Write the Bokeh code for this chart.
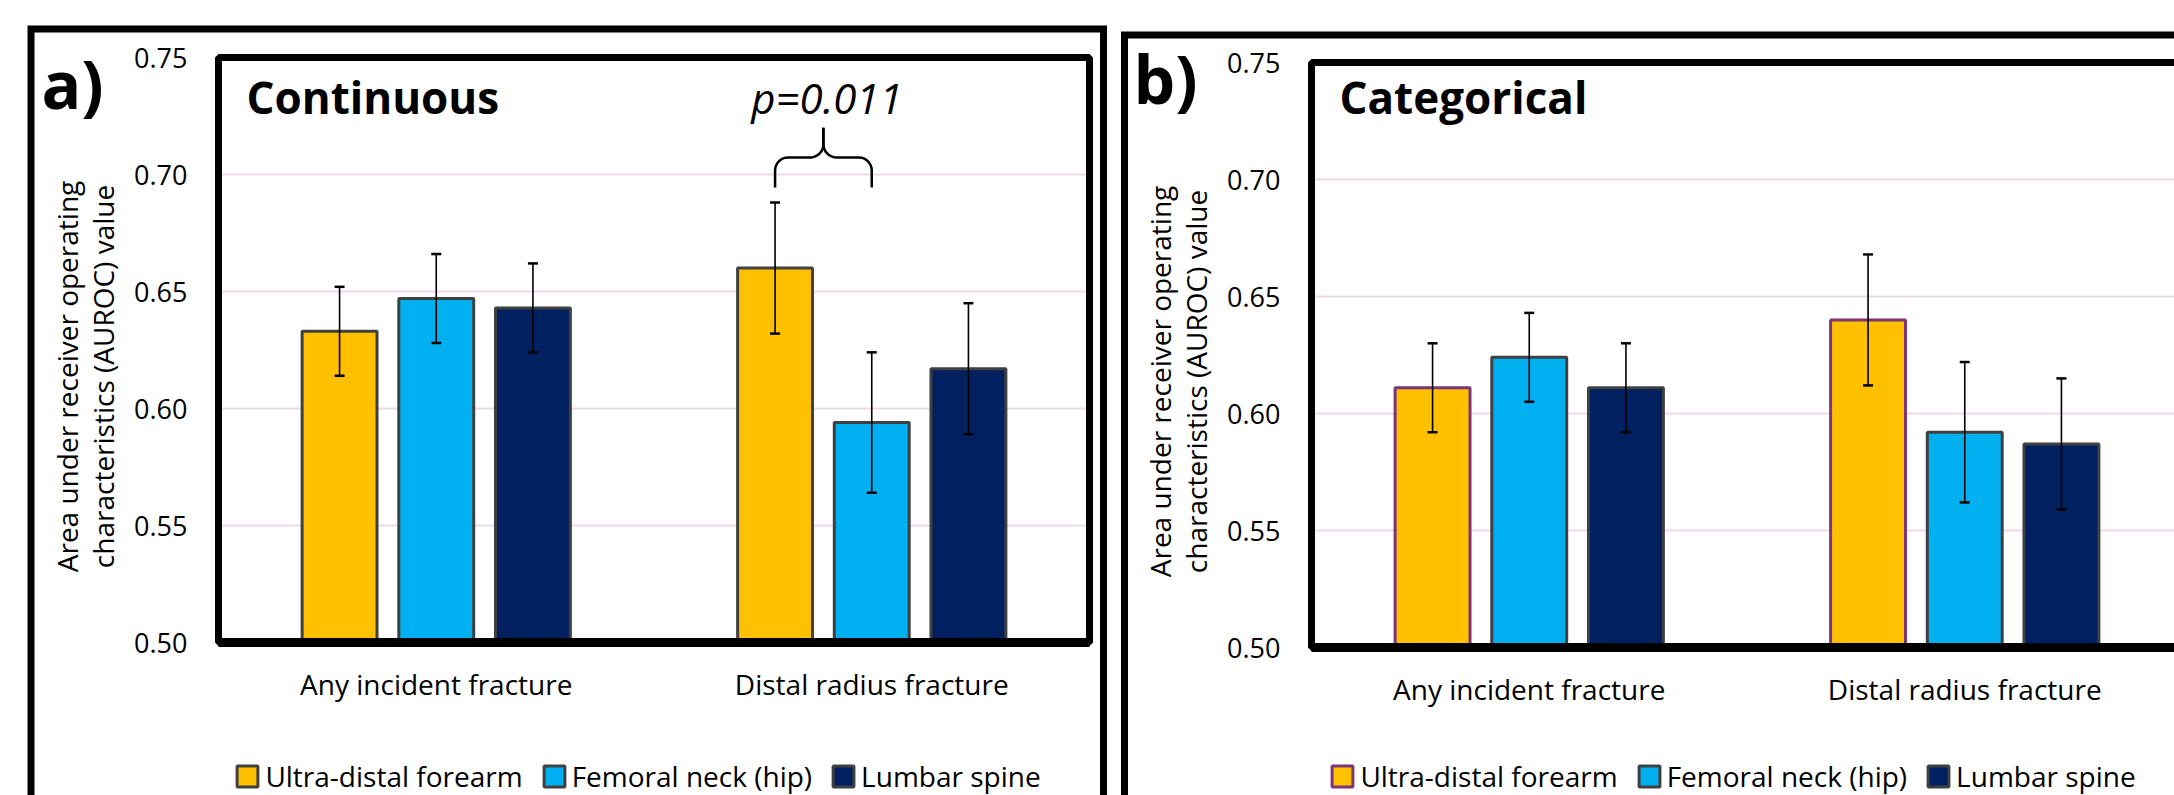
import math
from bokeh.plotting import figure
from bokeh.models import (Range1d, FixedTicker, Whisker, TeeHead, ColumnDataSource, Label,
                          Legend, LegendItem, NumeralTickFormatter)
from bokeh.layouts import row
from bokeh.embed import file_html
from bokeh.resources import INLINE

# ---------------- data ----------------
categories = ["Any incident fracture", "Distal radius fracture"]
sites = ["Ultra-distal forearm", "Femoral neck (hip)", "Lumbar spine"]
site_colors = ["#FFC000", "#00B0F0", "#002060"]
y_ticks = [0.50, 0.55, 0.60, 0.65, 0.70, 0.75]

# a) Continuous
cont_ultra = [0.633, 0.660]
cont_ultra_lo = [0.614, 0.632]
cont_ultra_hi = [0.652, 0.688]
cont_hip = [0.647, 0.594]
cont_hip_lo = [0.628, 0.564]
cont_hip_hi = [0.666, 0.624]
cont_spine = [0.643, 0.617]
cont_spine_lo = [0.624, 0.589]
cont_spine_hi = [0.662, 0.645]

# b) Categorical
cat_ultra = [0.611, 0.640]
cat_ultra_lo = [0.592, 0.612]
cat_ultra_hi = [0.630, 0.668]
cat_hip = [0.624, 0.592]
cat_hip_lo = [0.605, 0.562]
cat_hip_hi = [0.643, 0.622]
cat_spine = [0.611, 0.587]
cat_spine_lo = [0.592, 0.559]
cat_spine_hi = [0.630, 0.615]

p_value_text = "p=0.011"
brace_levels = [0.6944, 0.7073, 0.7200]  # ends, bar, tip

# ---------------- style / layout ----------------
FONT = "Open Sans"
GRID = "#F0D8EC"
EDGE = "#404040"
PURPLE = "#7B3578"
OFFSET = 0.222
BAR_W = 0.172
TOP = 0          # page y of the figures' top edge
H = 795          # figure height
PXX = 435.5      # pixels per category unit
PXY = 2340.0     # pixels per AUROC unit


class Panel:
    def __init__(self, page_left, width, x0_page, y0_page):
        self.page_left, self.width = page_left, width
        self.x0, self.y0 = x0_page, y0_page

    def dx(self, px):
        return (px - self.x0) / PXX

    def dy(self, py):
        return 0.5 + (self.y0 - py) / PXY


def make_panel(geo, series, letter, title, edge_colors, outer, ylab_page_x, ylab_page_y,
               letter_page, legend_loc, close_right):
    xr = Range1d(geo.dx(geo.page_left), geo.dx(geo.page_left + geo.width))
    yr = Range1d(geo.dy(TOP + H), geo.dy(TOP))
    p = figure(width=geo.width, height=H, x_range=xr, y_range=yr,
               output_backend="svg", toolbar_location=None, min_border=0,
               background_fill_color="white", border_fill_color="white")
    p.outline_line_color = None
    p.grid.visible = False

    # grid lines inside the plot area
    inner_ticks = y_ticks[1:-1]
    p.segment(x0=[0] * len(inner_ticks), x1=[len(categories)] * len(inner_ticks),
              y0=inner_ticks, y1=inner_ticks, line_color=GRID, line_width=2)

    # axes fixed at the plot-area edges
    p.xaxis.fixed_location = y_ticks[0]
    p.xaxis.ticker = FixedTicker(ticks=[i + 0.5 for i in range(len(categories))])
    p.xaxis.major_label_overrides = {i + 0.5: c for i, c in enumerate(categories)}
    p.xaxis.major_tick_line_color = None
    p.xaxis.major_tick_out = 0
    p.xaxis.major_tick_in = 0
    p.xaxis.minor_tick_line_color = None
    p.xaxis.axis_line_color = None
    p.xaxis.major_label_text_font = FONT
    p.xaxis.major_label_text_font_size = "28px"
    p.xaxis.major_label_text_color = "black"
    p.xaxis.major_label_standoff = 22

    p.yaxis.fixed_location = 0
    p.yaxis.ticker = FixedTicker(ticks=y_ticks)
    p.yaxis.formatter = NumeralTickFormatter(format="0.00")
    p.yaxis.major_tick_line_color = None
    p.yaxis.major_tick_out = 0
    p.yaxis.major_tick_in = 0
    p.yaxis.minor_tick_line_color = None
    p.yaxis.axis_line_color = None
    p.yaxis.major_label_text_font = FONT
    p.yaxis.major_label_text_font_size = "27px"
    p.yaxis.major_label_text_color = "black"
    p.yaxis.major_label_standoff = 31

    items = []
    for k, (name, vals, lo, hi) in enumerate(series):
        xs = [i + 0.5 + (k - 1) * OFFSET for i in range(len(categories))]
        src = ColumnDataSource(dict(x=xs, top=vals, lower=lo, upper=hi))
        r = p.vbar(x="x", top="top", bottom=y_ticks[0], width=BAR_W, source=src,
                   fill_color=site_colors[k], line_color=edge_colors[k], line_width=3)
        items.append(LegendItem(label=name, renderers=[r]))
        w = Whisker(base="x", upper="upper", lower="lower", source=src,
                    line_color="black", line_width=1.6, level="annotation",
                    upper_head=TeeHead(size=10, line_width=2.5, line_color="black"),
                    lower_head=TeeHead(size=10, line_width=2.5, line_color="black"))
        p.add_layout(w)

    # plot-area frame
    p.quad(left=0, right=len(categories), bottom=y_ticks[0], top=y_ticks[-1],
           fill_color=None, line_color="black", line_width=7)
    p.segment(x0=0, x1=len(categories), y0=y_ticks[0], y1=y_ticks[0],
              line_color="black", line_width=9)

    # outer panel frame
    l, t, r_ = outer
    bottom_beyond = geo.dy(900)
    if close_right:
        fx = [geo.dx(l), geo.dx(l), geo.dx(r_), geo.dx(r_)]
        fy = [bottom_beyond, geo.dy(t), geo.dy(t), bottom_beyond]
    else:
        fx = [geo.dx(l), geo.dx(l), geo.dx(2300)]
        fy = [bottom_beyond, geo.dy(t), geo.dy(t)]
    p.line(fx, fy, line_color="black", line_width=7, line_join="miter")

    legend = Legend(items=items, orientation="horizontal", location=legend_loc,
                    glyph_width=26, glyph_height=26, label_standoff=5, spacing=18,
                    padding=0, margin=0, border_line_color=None, background_fill_alpha=0,
                    label_text_font=FONT, label_text_font_size="28px",
                    label_text_color="black")
    p.add_layout(legend, "center")

    # panel letter
    p.add_layout(Label(x=geo.dx(letter_page[0]), y=geo.dy(letter_page[1]), text=letter,
                       text_font=FONT, text_font_style="bold", text_font_size="66px",
                       text_baseline="middle", text_color="black"))
    # title
    p.add_layout(Label(x=geo.dx(geo.x0 + 28), y=geo.dy(96), text=title, text_font=FONT,
                       text_font_style="bold", text_font_size="44px",
                       text_baseline="middle", text_color="black"))
    # y axis label (two lines)
    for xx, txt in zip(ylab_page_x, ["Area under receiver operating",
                                     "characteristics (AUROC) value"]):
        p.add_layout(Label(x=geo.dx(xx), y=geo.dy(ylab_page_y), text=txt, angle=math.pi / 2,
                           text_align="center", text_baseline="middle",
                           text_font=FONT, text_font_size="28px", text_color="black"))
    return p


series_a = [(sites[0], cont_ultra, cont_ultra_lo, cont_ultra_hi),
            (sites[1], cont_hip, cont_hip_lo, cont_hip_hi),
            (sites[2], cont_spine, cont_spine_lo, cont_spine_hi)]
series_b = [(sites[0], cat_ultra, cat_ultra_lo, cat_ultra_hi),
            (sites[1], cat_hip, cat_hip_lo, cat_hip_hi),
            (sites[2], cat_spine, cat_spine_lo, cat_spine_hi)]

geo_a = Panel(0, 1116, 218, 642)
geo_b = Panel(1116, 1058, 1311, 647)

pa = make_panel(geo_a, series_a, "a)", "Continuous", [EDGE, EDGE, EDGE],
                (30.5, 28.5, 1103), [66, 102], 376, (41, 82), (234.4, 0), True)
pb = make_panel(geo_b, series_b, "b)", "Categorical", [PURPLE, EDGE, EDGE],
                (1124, 34.5, None), [1159.5, 1195.5], 381, (1133, 77), (213.4, 0), False)

# brace + p-value on panel a (between ultra-distal and hip bars of second category)
xL = 1 + 0.5 - OFFSET
xR = 1 + 0.5
xM = (xL + xR) / 2
y_end, y_bar, y_tip = brace_levels
rx, ry = 0.03, 0.0056


def arc(cx, cy, a0, a1, n=8):
    return [(cx + rx * math.cos(math.radians(a0 + (a1 - a0) * i / n)),
             cy + ry * math.sin(math.radians(a0 + (a1 - a0) * i / n))) for i in range(n + 1)]


left_pts = [(xL, y_end)] + arc(xL + rx, y_bar - ry, 180, 90) + arc(xM - rx, y_bar + ry, 270, 360) + [(xM, y_tip)]
right_pts = [(xM, y_tip)] + arc(xM + rx, y_bar + ry, 180, 270) + arc(xR - rx, y_bar - ry, 90, 0) + [(xR, y_end)]
for pts in (left_pts, right_pts):
    pa.line([q[0] for q in pts], [q[1] for q in pts], line_color="black", line_width=2.5)

pa.add_layout(Label(x=xM + 0.008, y=geo_a.dy(97), text=p_value_text, text_align="center",
                    text_baseline="middle", text_font=FONT, text_font_style="italic",
                    text_font_size="42px", text_color="black"))

layout = row(pa, pb)
open("out.html", "w").write(file_html(layout, INLINE))
